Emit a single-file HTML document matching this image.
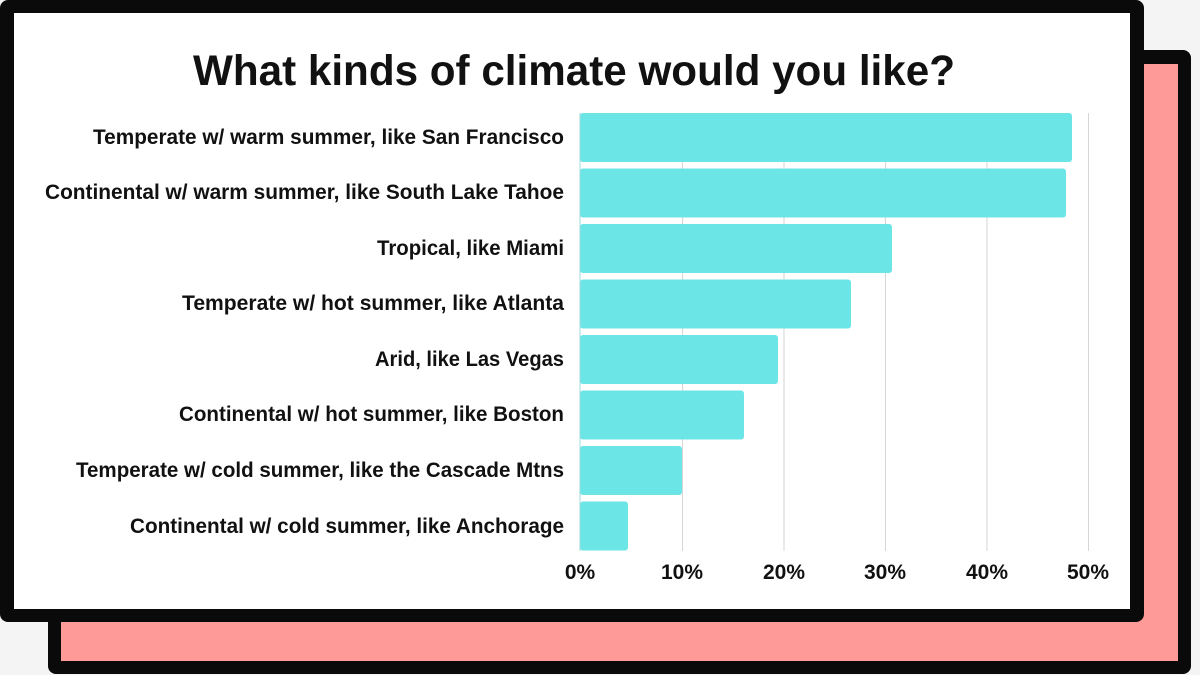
<!DOCTYPE html>
<html>
<head>
<meta charset="utf-8">
<style>
  html, body { margin: 0; padding: 0; background: #f4f4f4; }
  body { width: 1200px; height: 675px; overflow: hidden; }
  svg { display: block; }
  text { font-family: "Liberation Sans", sans-serif; font-weight: bold; fill: #111; }
</style>
</head>
<body>
<svg width="1200" height="675" viewBox="0 0 1200 675" xmlns="http://www.w3.org/2000/svg">
  <rect x="0" y="0" width="1200" height="675" fill="#f4f4f4"/>
  <!-- back pink card -->
  <rect x="48" y="50" width="1143" height="624" rx="8" fill="#0a0a0a"/>
  <rect x="61" y="64" width="1117" height="597" fill="#fe9a98"/>
  <!-- front white card -->
  <rect x="0" y="0" width="1144" height="622" rx="8" fill="#0a0a0a"/>
  <rect x="14" y="13" width="1116" height="596" fill="#ffffff"/>

  <!-- title -->
  <text x="193" y="85" font-size="43" textLength="762" lengthAdjust="spacingAndGlyphs">What kinds of climate would you like?</text>

  <!-- gridlines -->
  <g stroke="#d6d6d6" stroke-width="1">
    <line x1="682.5" y1="113" x2="682.5" y2="551"/>
    <line x1="784" y1="113" x2="784" y2="551"/>
    <line x1="885.5" y1="113" x2="885.5" y2="551"/>
    <line x1="987" y1="113" x2="987" y2="551"/>
    <line x1="1088.5" y1="113" x2="1088.5" y2="551"/>
  </g>

  <!-- bars -->
  <g fill="#6ce5e6">
    <rect x="580" y="113" width="492" height="49" rx="3"/>
    <rect x="580" y="168.5" width="486" height="49" rx="3"/>
    <rect x="580" y="224" width="312" height="49" rx="3"/>
    <rect x="580" y="279.5" width="271" height="49" rx="3"/>
    <rect x="580" y="335" width="198" height="49" rx="3"/>
    <rect x="580" y="390.5" width="164" height="49" rx="3"/>
    <rect x="580" y="446" width="102" height="49" rx="3"/>
    <rect x="580" y="501.5" width="48" height="49" rx="3"/>
  </g>
  <line x1="580" y1="113" x2="580" y2="551" stroke="#9fd9da" stroke-width="1"/>

  <!-- category labels -->
  <g font-size="21">
    <text x="93" y="144" textLength="471" lengthAdjust="spacingAndGlyphs">Temperate w/ warm summer, like San Francisco</text>
    <text x="45" y="199" textLength="519" lengthAdjust="spacingAndGlyphs">Continental w/ warm summer, like South Lake Tahoe</text>
    <text x="377" y="255" textLength="187" lengthAdjust="spacingAndGlyphs">Tropical, like Miami</text>
    <text x="182" y="310" textLength="382" lengthAdjust="spacingAndGlyphs">Temperate w/ hot summer, like Atlanta</text>
    <text x="375" y="366" textLength="189" lengthAdjust="spacingAndGlyphs">Arid, like Las Vegas</text>
    <text x="179" y="421" textLength="385" lengthAdjust="spacingAndGlyphs">Continental w/ hot summer, like Boston</text>
    <text x="76" y="477" textLength="488" lengthAdjust="spacingAndGlyphs">Temperate w/ cold summer, like the Cascade Mtns</text>
    <text x="130" y="533" textLength="434" lengthAdjust="spacingAndGlyphs">Continental w/ cold summer, like Anchorage</text>
  </g>

  <!-- x tick labels -->
  <g font-size="21" text-anchor="middle">
    <text x="580" y="579">0%</text>
    <text x="682" y="579">10%</text>
    <text x="784" y="579">20%</text>
    <text x="885" y="579">30%</text>
    <text x="987" y="579">40%</text>
    <text x="1088" y="579">50%</text>
  </g>
</svg>
</body>
</html>
